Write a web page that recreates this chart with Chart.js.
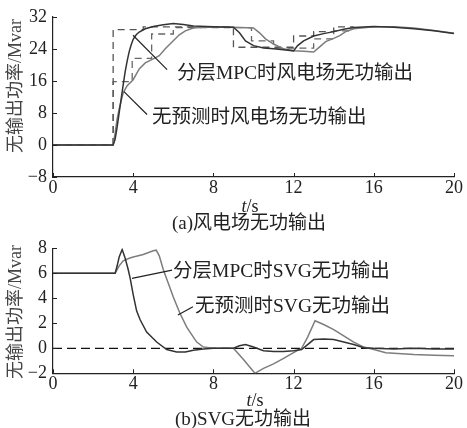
<!DOCTYPE html>
<html>
<head>
<meta charset="utf-8">
<script src="https://cdn.jsdelivr.net/npm/chart.js@4.4.0/dist/chart.umd.min.js"></script>
<style>
  body { margin: 0; background: #fff; }
  #wrap { position: relative; width: 467px; height: 428px; overflow: hidden;
          font-family: "Liberation Serif", "Noto Sans CJK SC", serif; color: #222; }
  canvas { position: absolute; left: 0; top: 0; }
  .cap { position: absolute; white-space: nowrap; transform: translate(-50%, -50%); line-height: 1; }
</style>
</head>
<body>
<div id="wrap">
  <canvas id="windChart" width="467" height="428"></canvas>
  <canvas id="svgChart" width="467" height="428"></canvas>
  <div class="cap" style="left:250px;top:206px;font-size:18px"><i>t</i>/s</div>
  <div class="cap" style="left:249px;top:222px;font-size:19px">(a)风电场无功输出</div>
  <div class="cap" style="left:255px;top:400px;font-size:18px"><i>t</i>/s</div>
  <div class="cap" style="left:243px;top:418px;font-size:19px">(b)SVG无功输出</div>
</div>
<script>
// (a) 风电场无功输出 — 分层MPC (深色) / 无预测 (浅色) / 两条阶梯参考 (虚线)
const windMpcT = [0, 3, 3.1, 3.2, 3.3, 3.4, 3.5, 3.6, 3.7, 3.8, 3.9, 4, 4.15, 4.3, 4.6, 5, 5.5, 6, 6.5, 7, 8, 9, 9.3, 9.6, 10, 10.5, 11, 11.5, 12, 12.2, 12.5, 13, 13.5, 14, 14.5, 15, 16, 17, 18, 19, 20];
const windMpcV = [0, 0, 1.5, 4.5, 8, 11.5, 15, 18.3, 21, 23.3, 25, 26.4, 27.5, 28.2, 29, 29.6, 30, 30.3, 30.1, 29.7, 29.5, 29.4, 28, 26, 24.8, 24.2, 24, 23.8, 23.5, 24.8, 26, 27.2, 27.8, 28.3, 28.9, 29.3, 29.6, 29.4, 29, 28.5, 27.8];
const windNoPredT = [0, 3, 3.1, 3.2, 3.3, 3.5, 3.7, 4, 4.3, 4.6, 5, 5.3, 5.6, 6, 6.3, 6.6, 7, 7.5, 8, 9, 10, 10.3, 10.6, 11, 11.5, 12, 12.5, 13, 13.3, 13.6, 14, 14.3, 14.6, 15, 16, 17, 18, 19, 20];
const windNoPredV = [0, 0, 3, 6.5, 9, 13, 14.8, 16.3, 19, 20.5, 21.5, 22.3, 24, 26, 27.5, 28.5, 29.2, 29.4, 29.4, 29.4, 29.2, 28, 26.5, 25.2, 24, 23.5, 23.4, 23.2, 24.5, 25.8, 26.6, 27.3, 28.3, 29, 29.5, 29.5, 29.2, 28.6, 27.9];
const windRefMpcT = [0, 3, 3, 4.5, 4.5, 9, 9, 12, 12, 13, 13, 14, 14, 15];
const windRefMpcV = [0, 0, 28.8, 28.8, 29.5, 29.5, 24.4, 24.4, 27.2, 27.2, 28.3, 28.3, 29.5, 29.5];
const windRefNoPredT = [3, 3, 3.95, 3.95, 4.92, 4.92, 6, 6, 9.9, 9.9, 11, 11, 13, 13, 14, 14, 15];
const windRefNoPredV = [0, 15.8, 15.8, 21.6, 21.6, 27.7, 27.7, 29.3, 29.3, 26, 26, 24.2, 24.2, 26.5, 26.5, 28.5, 28.5];

// (b) SVG无功输出
const svgMpcT = [0, 3.1, 3.2, 3.3, 3.45, 3.6, 3.75, 3.85, 4, 4.17, 4.34, 4.67, 5.17, 5.67, 6.17, 6.6, 7, 7.5, 8, 8.5, 9, 9.3, 9.6, 10, 10.5, 11, 11.5, 12, 12.4, 12.7, 13, 13.5, 14, 14.5, 15, 15.5, 16, 17, 18, 19, 20];
const svgMpcV = [6, 6, 6.6, 7.3, 7.9, 7.2, 6.3, 5.6, 4.3, 3.0, 2.3, 1.3, 0.5, -0.1, -0.3, -0.3, -0.15, -0.05, 0, 0, 0, 0.2, 0.3, 0.1, -0.2, -0.25, -0.25, -0.2, -0.1, 0.3, 0.7, 0.75, 0.7, 0.5, 0.3, 0.05, 0, -0.05, 0, -0.05, -0.05];
const svgNoPredT = [0, 3.1, 3.3, 3.5, 3.8, 4, 4.5, 5, 5.15, 5.3, 5.5, 5.75, 6, 6.33, 6.67, 7, 7.17, 7.5, 8, 8.5, 9, 9.5, 10.07, 10.5, 11, 11.5, 12, 12.4, 12.7, 13.07, 13.5, 14, 14.5, 15, 15.5, 16, 16.6, 17, 18, 19, 20];
const svgNoPredV = [6, 6, 6.6, 7.0, 7.2, 7.3, 7.5, 7.8, 7.85, 7.4, 6.3, 5.2, 4.1, 2.8, 1.7, 0.9, 0.5, 0.1, 0, 0, 0, -0.9, -2, -1.6, -1.25, -0.8, -0.35, 0, 0.9, 2.2, 1.9, 1.5, 1, 0.5, 0.1, -0.1, -0.35, -0.4, -0.5, -0.55, -0.6];
const svgZeroT = [0, 20];
const svgZeroV = [0, 0];

const xTicks = [0, 4, 8, 12, 16, 20];

// 标注（数据坐标）：引线起点、终点、文字左端
const windNotes = [
  { text: '分层MPC时风电场无功输出', from: [3.99, 27.4], to: [5.69, 18.8], at: [6.18, 17.8] },
  { text: '无预测时风电场无功输出', from: [3.54, 13.3], to: [4.69, 7.6], at: [4.94, 6.7] }
];
const svgNotes = [
  { text: '分层MPC时SVG无功输出', from: [3.94, 5.6], to: [5.94, 6.26], at: [5.99, 6.13] },
  { text: '无预测时SVG无功输出', from: [6.23, 2.66], to: [6.98, 3.33], at: [7.08, 3.33] }
];

const pts = (ts, vs) => ts.map((t, i) => ({ x: t, y: vs[i] }));
const SERIF = '"Liberation Serif", "Noto Sans CJK SC", serif';

const line = (data, color, dash) => ({
  data, borderColor: color, borderWidth: dash ? 1.3 : 1.5, borderDash: dash || [],
  pointRadius: 0, tension: 0, fill: false
});

// 向内的刻度线 + 纵轴标题 + 标注
const decorPlugin = {
  id: 'decor',
  afterDraw(chart, args, opts) {
    const { ctx, chartArea: a, scales: { x, y } } = chart;
    ctx.save();
    ctx.strokeStyle = '#222';
    ctx.lineWidth = 1;
    x.ticks.forEach(tk => {
      const px = Math.round(x.getPixelForValue(tk.value)) + 0.5;
      ctx.beginPath(); ctx.moveTo(px, a.bottom); ctx.lineTo(px, a.bottom - 4); ctx.stroke();
    });
    y.ticks.forEach(tk => {
      const py = Math.round(y.getPixelForValue(tk.value)) + 0.5;
      ctx.beginPath(); ctx.moveTo(a.left, py); ctx.lineTo(a.left + 4, py); ctx.stroke();
    });
    // 纵轴标题
    ctx.fillStyle = '#444';
    ctx.font = '18px ' + SERIF;
    ctx.textAlign = 'center';
    ctx.textBaseline = 'middle';
    ctx.translate(16, opts.titleY);
    ctx.rotate(-Math.PI / 2);
    ctx.fillText('无输出功率/Mvar', 0, 0);
    ctx.restore();

    ctx.save();
    ctx.strokeStyle = '#222';
    ctx.lineWidth = 1.2;
    ctx.fillStyle = '#222';
    ctx.font = '19.5px ' + SERIF;
    ctx.textAlign = 'left';
    ctx.textBaseline = 'middle';
    (opts.notes || []).forEach(n => {
      ctx.beginPath();
      ctx.moveTo(x.getPixelForValue(n.from[0]), y.getPixelForValue(n.from[1]));
      ctx.lineTo(x.getPixelForValue(n.to[0]), y.getPixelForValue(n.to[1]));
      ctx.stroke();
      ctx.fillText(n.text, x.getPixelForValue(n.at[0]), y.getPixelForValue(n.at[1]));
    });
    ctx.restore();
  }
};

function makeOptions(yMin, yMax, yStep, padTop, padBottom, titleY, notes) {
  const tickFont = { family: SERIF, size: 18 };
  return {
    responsive: false, animation: false, devicePixelRatio: 1,
    layout: { padding: { left: 0, right: 13, top: padTop, bottom: padBottom } },
    plugins: { legend: { display: false }, tooltip: { enabled: false }, decor: { titleY, notes } },
    scales: {
      x: {
        type: 'linear', min: 0, max: 20,
        afterBuildTicks: s => { s.ticks = xTicks.map(v => ({ value: v })); },
        afterFit: s => { s.height = 24; },
        grid: { display: false, drawTicks: false },
        border: { display: true, color: '#222', width: 1.2 },
        ticks: { color: '#222', font: tickFont, padding: 0, maxRotation: 0 }
      },
      y: {
        type: 'linear', min: yMin, max: yMax,
        afterFit: s => { s.width = 53; },
        grid: { display: false, drawTicks: false },
        border: { display: true, color: '#222', width: 1.2 },
        ticks: { color: '#222', font: tickFont, padding: 6, stepSize: yStep,
                 callback: v => (v < 0 ? '\u2212' + Math.abs(v) : String(v)) }
      }
    }
  };
}

new Chart(document.getElementById('windChart'), {
  type: 'line',
  data: {
    datasets: [
      line(pts(windMpcT, windMpcV), '#333'),
      line(pts(windNoPredT, windNoPredV), '#7d7d7d'),
      line(pts(windRefMpcT, windRefMpcV), '#555', [7, 5]),
      line(pts(windRefNoPredT, windRefNoPredV), '#666', [7, 5])
    ]
  },
  options: makeOptions(-8, 32, 8, 14.5, 428 - 177 - 24, 86, windNotes),
  plugins: [decorPlugin]
});

new Chart(document.getElementById('svgChart'), {
  type: 'line',
  data: {
    datasets: [
      line(pts(svgMpcT, svgMpcV), '#333'),
      line(pts(svgNoPredT, svgNoPredV), '#7d7d7d'),
      line(pts(svgZeroT, svgZeroV), '#111', [9, 5])
    ]
  },
  options: makeOptions(-2, 8, 2, 248.3, 428 - 373.3 - 24, 312, svgNotes),
  plugins: [decorPlugin]
});
</script>
</body>
</html>
